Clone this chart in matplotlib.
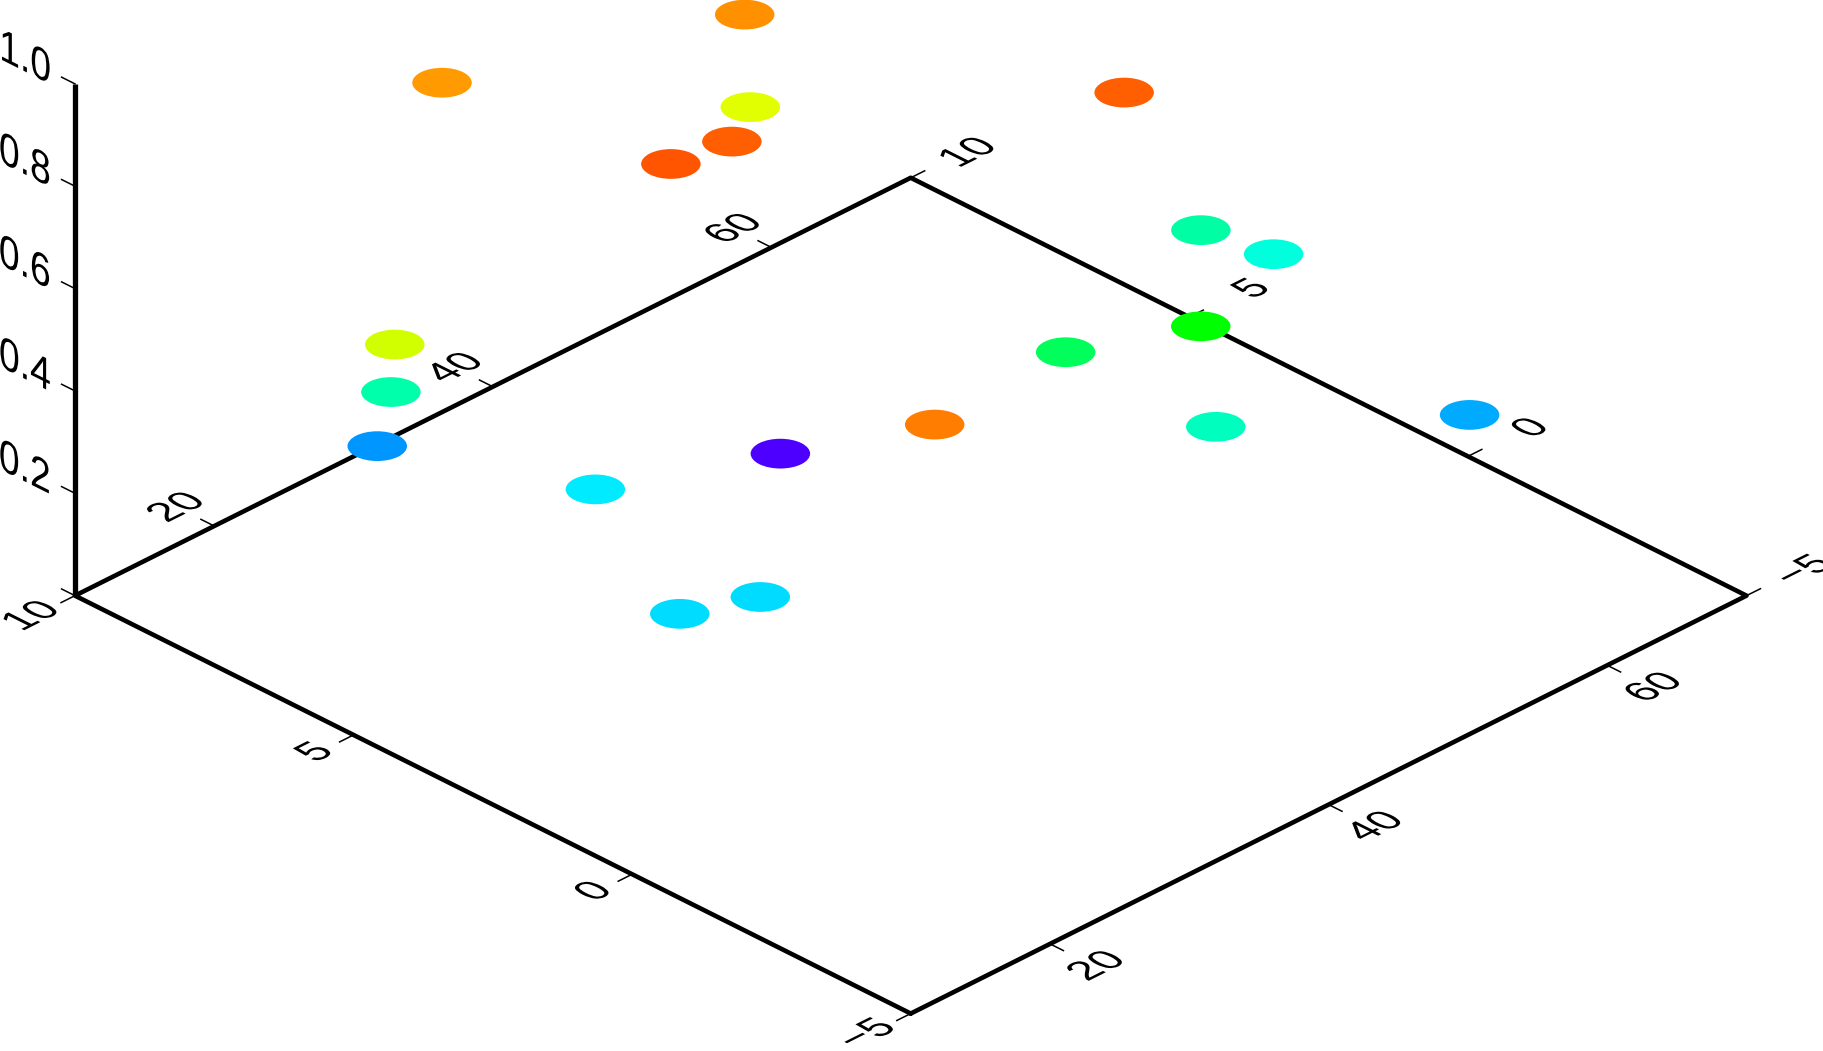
import matplotlib
matplotlib.use('Agg')
import matplotlib.pyplot as plt
from matplotlib.colors import LinearSegmentedColormap
from matplotlib.path import Path
from matplotlib.patheffects import AbstractPathEffect
from matplotlib.transforms import Affine2D

plt.rcParams['font.family'] = ['Liberation Sans', 'DejaVu Sans']

x = [43.2, 27.85, 40.8, 32.3, 28.1, 49.9, 59.35, 61.85, 47.7, 43.6,
     11.4, 18.8, 19.9, 20.0, 46.5, 60.8, 41.4, 22.2, 16.7, 20.8]
y = [6.28, 7.875, 5.58, 3.785, 3.83, 1.145, 2.13, 1.45, -0.78, 0.62,
     4.61, 6.53, 7.05, -2.93, -1.35, -2.33, 5.19, 3.71, 0.82, 0.4]
z = [0.886, 0.875, 0.776, 0.922, 0.933, 0.922, 0.471, 0.427, 0.6, 0.529,
     0.765, 0.467, 0.318, 0.902, 0.451, 0.333, 0.112, 0.384, 0.373, 0.373]

x_ticks = [20, 40, 60]
y_ticks = [-5, 0, 5, 10]
z_ticks = [0.2, 0.4, 0.6, 0.8, 1.0]
x_lim = (10, 70)
y_lim = (-5, 10)
z_lim = (0, 1)

rainbow = LinearSegmentedColormap.from_list(
    'rainbow_cpt', ['#aa00ff', '#0000ff', '#00ffff', '#00ff00', '#ffff00', '#ff0000'])


class Shear(AbstractPathEffect):
    # lays a text into one of the box planes, sheared around its own centre
    def __init__(self, a, b, c, d):
        super().__init__()
        self.m = Affine2D.from_values(a, b, c, d, 0, 0)

    def draw_path(self, renderer, gc, tpath, affine, rgbFace=None):
        box = tpath.get_extents()
        cx, cy = (box.x0 + box.x1) / 2, (box.y0 + box.y1) / 2
        tr = Affine2D().translate(-cx, -cy) + self.m + Affine2D().translate(cx, cy) + affine
        renderer.draw_path(gc, tpath, tr, rgbFace)


floor = [Shear(0.707, 0.354, -0.707, 0.354)]
wall = [Shear(0.707, -0.354, 0, 0.866)]

W, H = 1824, 1051
fig = plt.figure(figsize=(W / 100, H / 100), dpi=100)
L = 2090
cx, cy = 882.5, 368
ax = fig.add_axes([(cx - L / 2) / W, (H - cy - L / 2) / H, L / W, L / H],
                  projection='3d', proj_type='ortho', computed_zorder=False)
ax.set_box_aspect((1, 1, 0.5), zoom=0.8235)
ax.view_init(elev=30, azim=-135)
ax.set_xlim(x_lim)
ax.set_ylim(y_lim)
ax.set_zlim(z_lim)
ax.set_axis_off()

x0, x1 = x_lim
y0, y1 = y_lim
frame = dict(color='k', lw=3.3, solid_capstyle='round', clip_on=False, zorder=2)
ax.plot([x0, x1, x1, x0, x0], [y0, y0, y1, y1, y0], [0, 0, 0, 0, 0], **frame)
ax.plot([x0, x0], [y1, y1], z_lim, color='k', lw=3.8, solid_capstyle='butt', clip_on=False, zorder=2)

tick = dict(color='k', lw=1.1, clip_on=False, zorder=1)
label = dict(ha='center', va='center', fontsize=38, color='k', zorder=3)

for v in x_ticks:
    ax.plot([v, v], [y0, y0 - 0.24], [0, 0], **tick)
    ax.text(v - 0.2, y0 - 0.85, 0, str(v), path_effects=floor, **label)
    ax.plot([v, v], [y1, y1 + 0.24], [0, 0], **tick)
    ax.text(v - 0.3, y1 + 0.64, 0, str(v), path_effects=floor, **label)

for v in y_ticks:
    s = str(v).replace('-', '\u2212')
    # two-character labels sit a bit closer to the right edge, further off the left one
    wide = 0.4 if len(s) > 1 else 0
    ax.plot([x0, x0 - 1.0], [v, v], [0, 0], **tick)
    ax.text(x0 - 2.9 - wide, v, 0, s, path_effects=floor, **label)
    ax.plot([x1, x1 + 1.0], [v, v], [0, 0], **tick)
    ax.text(x1 + 4.0 - wide, v - 0.09, 0, s, path_effects=floor, **label)

for v in [0] + z_ticks:
    ax.plot([x0, x0], [y1, y1 + 0.24], [v, v], **tick)
for v in z_ticks:
    ax.text(x0, y1 + 0.9, v - 0.003, f'{v:.1f}', path_effects=wall, **label)

# circles on the ground plane look like 2:1 ellipses in this view
ellipse = Path.unit_circle().transformed(Affine2D().scale(1, 0.5))
ax.scatter(x, y, z, c=z, cmap=rainbow, vmin=0, vmax=1, marker=ellipse, s=1835,
           linewidths=0, depthshade=False, clip_on=False, zorder=5)

fig.savefig('out.png', dpi=100)
